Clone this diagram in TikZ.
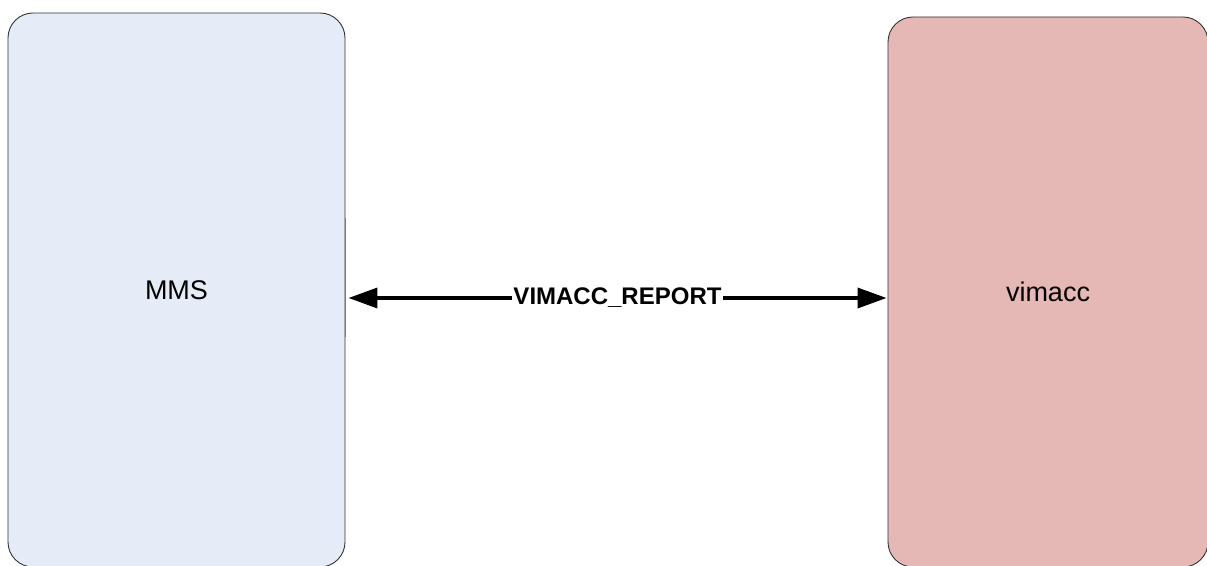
\documentclass[tikz,border=0pt]{standalone}
\usepackage{fontspec}
\setmainfont{Liberation Sans}
\usepackage{xcolor}
\definecolor{mmsblue}{RGB}{230,236,247}
\definecolor{vimred}{RGB}{229,184,181}
\definecolor{edgeblue}{RGB}{79,129,189}
\usepackage{tikz}
\usetikzlibrary{positioning}
\usetikzlibrary{arrows.meta}
\tikzset{sys node/.style={rectangle,rounded corners=25pt,draw=black!80,line width=0.9pt,inner sep=0pt,font=\fontsize{27}{30}\selectfont},}

\begin{document}
\begin{tikzpicture}[x=1pt,y=1pt, >={Triangle[length=29pt,width=20pt]}]
	    \useasboundingbox (0,0) rectangle (1207,565);
		\node[sys node, minimum width=337pt, minimum height=554pt, fill=mmsblue] (mms) at (176.5,275) {MMS};
	    \node[sys node, minimum width=320pt, minimum height=550pt, fill=vimred] (vim) at (1048,273) {vimacc};
	
	    \draw[edgeblue, line width=1pt] ([yshift=72pt]mms.east) -- ([yshift=-47pt]mms.east);
	    \path[draw,line width=3.5pt]
	    ([xshift=3pt,yshift=-8pt]mms.east) edge [<->] node [fill=white, inner sep=1pt, font=\bfseries\fontsize{24}{28}\selectfont] {VIMACC\_REPORT} ([xshift=-1pt,yshift=-6pt]vim.west);
	\end{tikzpicture}
\end{document}
